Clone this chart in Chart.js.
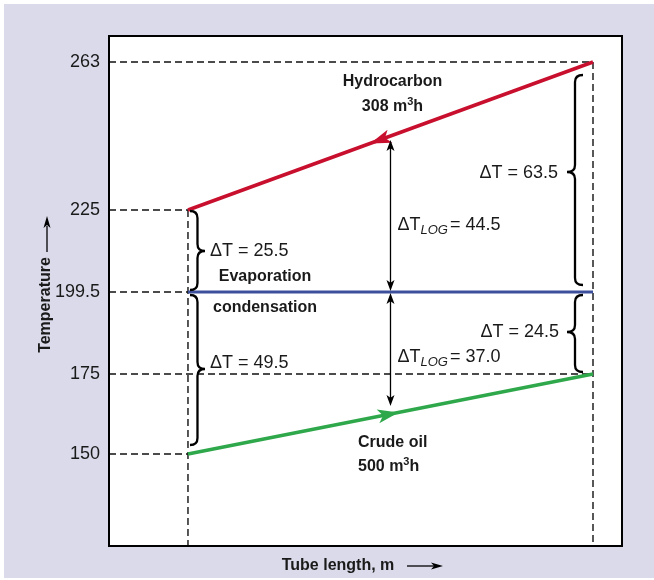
<!DOCTYPE html>
<html><head><meta charset="utf-8">
<script src="https://cdn.jsdelivr.net/npm/chart.js@4.4.1/dist/chart.umd.min.js"></script>
<style>html,body{margin:0;padding:0;background:#fff}#wrap{width:654px;height:580px}</style>
</head><body><div id="wrap"><canvas id="c" width="654" height="580"></canvas></div>
<script>
// ---- data ----
const tubePosition = [0, 1];            // inlet / outlet of the tube (relative length)
const hydrocarbonTemp = [225, 263];
const evaporationTemp = [199.5, 199.5];
const crudeOilTemp = [150, 175];
const yTickValues = [150, 175, 199.5, 225, 263];
const deltaTLeft = ['ΔT = 25.5', 'ΔT = 49.5'];
const deltaTRight = ['ΔT = 63.5', 'ΔT = 24.5'];
const deltaTLog = ['44.5', '37.0'];

// ---- axis layout (schematic, non-uniform temperature axis) ----
const X_MIN = -0.195, X_MAX = 1.0716;
const Y_MIN = 120, Y_MAX = 270;
const Y_KNOTS = [Y_MIN, ...yTickValues, Y_MAX];
const Y_DEC = [0, 0.1804, 0.3373, 0.498, 0.6588, 0.949, 1];

function valToDec(v){
  for (let i = 0; i < Y_KNOTS.length - 1; i++){
    if (v <= Y_KNOTS[i+1] || i === Y_KNOTS.length - 2){
      const t = (v - Y_KNOTS[i]) / (Y_KNOTS[i+1] - Y_KNOTS[i]);
      return Y_DEC[i] + t * (Y_DEC[i+1] - Y_DEC[i]);
    }
  }
}
function decToVal(d){
  for (let i = 0; i < Y_DEC.length - 1; i++){
    if (d <= Y_DEC[i+1] || i === Y_DEC.length - 2){
      const t = (d - Y_DEC[i]) / (Y_DEC[i+1] - Y_DEC[i]);
      return Y_KNOTS[i] + t * (Y_KNOTS[i+1] - Y_KNOTS[i]);
    }
  }
}
class PiecewiseScale extends Chart.LinearScale {
  getPixelForValue(v){ return this.getPixelForDecimal(valToDec(v)); }
  getValueForPixel(p){ return decToVal(this.getDecimalForPixel(p)); }
}
PiecewiseScale.id = 'piecewise';
PiecewiseScale.defaults = Chart.LinearScale.defaults;
Chart.register(PiecewiseScale);

const BG = '#dadaea';
const RED = '#c8102e', BLUE = '#3c4f9c', GREEN = '#2ea84a', INK = '#1a1a1a';
const FONT = '"Liberation Sans", Arial, sans-serif';

const pts = (ys) => tubePosition.map((x, i) => ({x, y: ys[i]}));
const guide = (a, b) => ({
  data: [a, b], borderColor: '#111', borderWidth: 1.4, borderDash: [7, 4],
  pointRadius: 0, order: 5, fill: false
});

function arrowHead(ctx, tx, ty, ang, len, hw, color){
  const c = Math.cos(ang), s = Math.sin(ang);
  const bx = tx - len * c, by = ty - len * s;
  const nx = tx - len * 0.75 * c, ny = ty - len * 0.75 * s;
  ctx.fillStyle = color;
  ctx.beginPath();
  ctx.moveTo(tx, ty);
  ctx.lineTo(bx - hw * s, by + hw * c);
  ctx.lineTo(nx, ny);
  ctx.lineTo(bx + hw * s, by - hw * c);
  ctx.closePath();
  ctx.fill();
}
function dblArrow(ctx, x, y1, y2){
  ctx.strokeStyle = '#000'; ctx.lineWidth = 1.3;
  ctx.beginPath(); ctx.moveTo(x, y1 + 6); ctx.lineTo(x, y2 - 6); ctx.stroke();
  arrowHead(ctx, x, y1, -Math.PI/2, 11, 4, '#000');
  arrowHead(ctx, x, y2, Math.PI/2, 11, 4, '#000');
}
function brace(ctx, xe, y1, y2, ym, w, dir){
  const xs = xe + dir * w / 2, xt = xe + dir * w, r = 7;
  ctx.strokeStyle = '#000'; ctx.lineWidth = 2.3;
  ctx.beginPath();
  ctx.moveTo(xe, y1);
  ctx.quadraticCurveTo(xs, y1, xs, y1 + r);
  ctx.lineTo(xs, ym - r);
  ctx.quadraticCurveTo(xs, ym, xt, ym);
  ctx.quadraticCurveTo(xs, ym, xs, ym + r);
  ctx.lineTo(xs, y2 - r);
  ctx.quadraticCurveTo(xs, y2, xe, y2);
  ctx.stroke();
}
function txt(ctx, s, x, y, size, weight, align){
  ctx.font = (weight || 'normal') + ' ' + size + 'px ' + FONT;
  ctx.fillStyle = INK; ctx.textAlign = align || 'left'; ctx.textBaseline = 'middle';
  ctx.fillText(s, x, y);
  return ctx.measureText(s).width;
}
function flowText(ctx, num, x, y, align){
  ctx.font = 'bold 16px ' + FONT;
  const a = ctx.measureText(num + ' m').width;
  ctx.font = 'bold 11px ' + FONT;
  const b = ctx.measureText('3').width;
  ctx.font = 'bold 16px ' + FONT;
  const c = ctx.measureText('h').width;
  const total = a + b + c;
  let x0 = align === 'center' ? x - total / 2 : x;
  txt(ctx, num + ' m', x0, y, 16, 'bold');
  txt(ctx, '3', x0 + a, y - 5, 11, 'bold');
  txt(ctx, 'h', x0 + a + b, y, 16, 'bold');
}
function logText(ctx, val, x, y){
  let w = txt(ctx, 'ΔT', x, y, 18);
  ctx.font = 'italic 13px ' + FONT;
  txt(ctx, 'LOG', x + w, y + 5, 13, 'italic');
  const w2 = ctx.measureText('LOG').width;
  txt(ctx, '= ' + val, x + w + w2 + 2, y, 18);
}

const deco = {
  id: 'deco',
  beforeDraw(chart){
    const {ctx, chartArea: a} = chart;
    ctx.save();
    ctx.fillStyle = '#fff'; ctx.fillRect(0, 0, 654, 580);
    ctx.fillStyle = BG; ctx.fillRect(4, 4, 650, 574);
    ctx.fillStyle = '#fff'; ctx.fillRect(a.left, a.top, a.right - a.left, a.bottom - a.top);
    ctx.restore();
  },
  afterDraw(chart){
    const {ctx, chartArea: a, scales: {x: sx, y: sy}} = chart;
    ctx.save();
    ctx.strokeStyle = '#000'; ctx.lineWidth = 2;
    ctx.strokeRect(a.left, a.top, a.right - a.left, a.bottom - a.top);

    const X0 = sx.getPixelForValue(tubePosition[0]), X1 = sx.getPixelForValue(tubePosition[1]);
    const hy0 = sy.getPixelForValue(hydrocarbonTemp[0]), hy1 = sy.getPixelForValue(hydrocarbonTemp[1]);
    const cy0 = sy.getPixelForValue(crudeOilTemp[0]), cy1 = sy.getPixelForValue(crudeOilTemp[1]);
    const ey = sy.getPixelForValue(evaporationTemp[0]);

    let t = 0.45;
    arrowHead(ctx, X1 + (X0 - X1) * (1 - t), hy1 + (hy0 - hy1) * (1 - t),
      Math.atan2(hy0 - hy1, X0 - X1), 21, 7, RED);
    t = 0.52;
    arrowHead(ctx, X0 + (X1 - X0) * t, cy0 + (cy1 - cy0) * t,
      Math.atan2(cy1 - cy0, X1 - X0), 21, 7, GREEN);

    const xm = X0 + (X1 - X0) * 0.5;
    const redMid = hy0 + (hy1 - hy0) * 0.5, grnMid = cy0 + (cy1 - cy0) * 0.5;
    dblArrow(ctx, xm, redMid + 4, ey - 1);
    dblArrow(ctx, xm, ey + 1, grnMid - 8);

    brace(ctx, X0 + 2, hy0 + 1, ey - 2, (hy0 + ey) / 2, 15, 1);
    brace(ctx, X0 + 2, ey + 3, cy0 - 9, (ey + cy0) / 2 - 4, 15, 1);
    brace(ctx, X1 - 10, hy1 + 13, ey - 7, (hy1 + ey) / 2 - 5, 16, -1);
    brace(ctx, X1 - 10, ey + 3, cy1 - 2, (ey + cy1) / 2 - 1, 16, -1);

    txt(ctx, deltaTLeft[0], X0 + 22, (hy0 + ey) / 2, 18);
    txt(ctx, deltaTLeft[1], X0 + 22, (ey + cy0) / 2 - 10, 18);
    txt(ctx, deltaTRight[0], X1 - 35, (hy1 + ey) / 2 - 4, 18, 'normal', 'right');
    txt(ctx, deltaTRight[1], X1 - 34, (ey + cy1) / 2 - 1, 18, 'normal', 'right');
    logText(ctx, deltaTLog[0], xm + 7, 225);
    logText(ctx, deltaTLog[1], xm + 7, 357);

    txt(ctx, 'Hydrocarbon', xm + 2, 82, 16, 'bold', 'center');
    flowText(ctx, '308', xm + 2, 107, 'center');
    txt(ctx, 'Evaporation', 265, 277, 16, 'bold', 'center');
    txt(ctx, 'condensation', 265, 308, 16, 'bold', 'center');
    txt(ctx, 'Crude oil', 358, 443, 16, 'bold');
    flowText(ctx, '500', 358, 467, 'left');

    txt(ctx, 'Tube length, m', 338, 566, 16, 'bold', 'center');
    ctx.strokeStyle = '#000'; ctx.lineWidth = 1.3;
    ctx.beginPath(); ctx.moveTo(407, 566); ctx.lineTo(434, 566); ctx.stroke();
    arrowHead(ctx, 443, 566, 0, 12, 3.5, '#000');

    ctx.save();
    ctx.translate(46, 305); ctx.rotate(-Math.PI / 2);
    txt(ctx, 'Temperature', 0, 0, 16, 'bold', 'center');
    ctx.restore();
    ctx.beginPath(); ctx.moveTo(47, 252); ctx.lineTo(47, 226); ctx.stroke();
    arrowHead(ctx, 47, 216, -Math.PI / 2, 12, 3.5, '#000');
    ctx.restore();
  }
};

new Chart(document.getElementById('c'), {
  type: 'line',
  data: {
    datasets: [
      { label: 'Hydrocarbon', data: pts(hydrocarbonTemp), borderColor: RED, borderWidth: 3.5, pointRadius: 0, order: 0 },
      { label: 'Evaporation/condensation', data: pts(evaporationTemp), borderColor: BLUE, borderWidth: 3, pointRadius: 0, order: 0 },
      { label: 'Crude oil', data: pts(crudeOilTemp), borderColor: GREEN, borderWidth: 3.5, pointRadius: 0, order: 0 },
      guide({x: X_MIN, y: yTickValues[4]}, {x: tubePosition[1], y: yTickValues[4]}),
      guide({x: X_MIN, y: yTickValues[3]}, {x: tubePosition[0], y: yTickValues[3]}),
      guide({x: X_MIN, y: yTickValues[2]}, {x: tubePosition[0], y: yTickValues[2]}),
      guide({x: X_MIN, y: yTickValues[1]}, {x: tubePosition[1], y: yTickValues[1]}),
      guide({x: X_MIN, y: yTickValues[0]}, {x: tubePosition[0], y: yTickValues[0]}),
      guide({x: tubePosition[0], y: hydrocarbonTemp[0]}, {x: tubePosition[0], y: Y_MIN}),
      guide({x: tubePosition[1], y: hydrocarbonTemp[1]}, {x: tubePosition[1], y: Y_MIN})
    ]
  },
  options: {
    responsive: false, animation: false, events: [],
    layout: { padding: { left: 0, top: 36, right: 32, bottom: 34 } },
    plugins: { legend: { display: false }, tooltip: { enabled: false } },
    scales: {
      x: { type: 'linear', min: X_MIN, max: X_MAX, display: false },
      y: {
        type: 'piecewise', min: Y_MIN, max: Y_MAX,
        afterBuildTicks: (s) => { s.ticks = yTickValues.map(v => ({value: v})); },
        afterFit: (s) => { s.width = 109; },
        grid: { display: false, drawTicks: false },
        border: { display: false },
        ticks: { padding: 9, color: INK, font: { family: FONT, size: 18 }, callback: (v) => String(v), autoSkip: false }
      }
    }
  },
  plugins: [deco]
});
</script>
</body></html>
